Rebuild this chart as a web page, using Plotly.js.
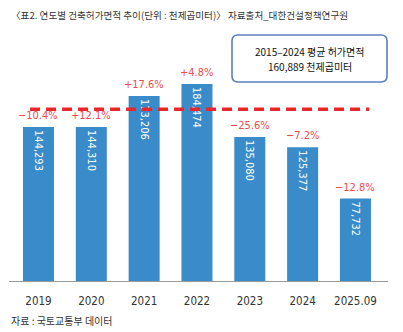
<!DOCTYPE html>
<html><head><meta charset="utf-8">
<script src="https://cdn.plot.ly/plotly-3.0.1.min.js"></script>
<style>html,body{margin:0;padding:0;background:#fff;}#chart{width:403px;height:332px;}</style>
</head><body><div id="chart"></div>
<script>
const years = ['2019','2020','2021','2022','2023','2024','2025.09'];
const areas = [144293, 144310, 173206, 184474, 135080, 125377, 77732];
const valueLabels = ['144,293','144,310','173,206','184,474','135,080','125,377','77,732'];
const changeLabels = ['−10.4%','+12.1%','+17.6%','+4.8%','−25.6%','−7.2%','−12.8%'];
const average = 160889;
const titleText = '〈표2. 연도별 건축허가면적 추이(단위 : 천제곱미터)〉 자료출처_대한건설정책연구원';
const boxLines = ['2015–2024 평균 허가면적', '160,889 천제곱미터'];
const sourceText = '자료 : 국토교통부 데이터';

const W = 403, H = 332;
const mL = 9, mR = 15, mT = 30, mB = 50;
const pw = W - mL - mR, ph = H - mT - mB;
const px = x => (x - mL) / pw;
const py = y => (H - mB - y) / ph;

const narrow = '"DejaVu Sans Condensed", "Liberation Sans Narrow", "Noto Sans CJK KR", sans-serif';
const kfont = '"Noto Sans CJK KR", sans-serif';

function roundRect(x0, y0, x1, y1, r) {
  const P = (x, y) => px(x) + ',' + py(y);
  return 'M' + P(x0 + r, y0) + ' L' + P(x1 - r, y0) + ' Q' + P(x1, y0) + ' ' + P(x1, y0 + r) +
    ' L' + P(x1, y1 - r) + ' Q' + P(x1, y1) + ' ' + P(x1 - r, y1) +
    ' L' + P(x0 + r, y1) + ' Q' + P(x0, y1) + ' ' + P(x0, y1 - r) +
    ' L' + P(x0, y0 + r) + ' Q' + P(x0, y0) + ' ' + P(x0 + r, y0) + ' Z';
}

const trace = {
  type: 'bar', x: years, y: areas, width: 0.587,
  marker: {color: '#3a8bc9'},
  text: valueLabels, textposition: 'inside', insidetextanchor: 'end',
  textangle: 90, insidetextfont: {color: '#ffffff', size: 11, family: narrow},
  hoverinfo: 'none', cliponaxis: false
};

const annotations = years.map((yr, i) => ({
  x: i, y: areas[i], xref: 'x', yref: 'y', text: changeLabels[i],
  showarrow: false, yanchor: 'bottom', yshift: 3,
  font: {color: '#f04950', size: 11, family: narrow}
}));
annotations.push({
  xref: 'paper', yref: 'paper', x: px(9), y: py(15), xanchor: 'left', yanchor: 'middle',
  text: titleText, showarrow: false, font: {size: 9.6, color: '#333', family: kfont}
});
boxLines.forEach((t, k) => annotations.push({
  xref: 'paper', yref: 'paper', x: px(309.5), y: py(k === 0 ? 51.3 : 66),
  xanchor: 'center', yanchor: 'middle', borderpad: 0,
  text: t, showarrow: false, font: {size: 10, color: '#111', family: kfont}
}));
annotations.push({
  xref: 'paper', yref: 'paper', x: px(9), y: py(320), xanchor: 'left', yanchor: 'middle',
  text: sourceText, showarrow: false, font: {size: 10, color: '#333', family: kfont}
});

const layout = {
  width: W, height: H,
  margin: {l: mL, r: mR, t: mT, b: mB, pad: 0},
  paper_bgcolor: '#fff', plot_bgcolor: '#fff',
  showlegend: false,
  xaxis: {
    type: 'category', range: [-0.558, 6.616], showgrid: false, zeroline: false,
    showline: false, ticks: '', ticklabelstandoff: 10,
    tickfont: {size: 11.5, color: '#333', family: narrow}
  },
  yaxis: {range: [0, 234640], visible: false, fixedrange: true},
  shapes: [
    {type: 'line', xref: 'paper', yref: 'y', x0: 0, x1: 1, y0: 0, y1: 0,
     line: {color: '#9a9a9a', width: 2}},
    {type: 'line', xref: 'x', yref: 'y', x0: -0.16, x1: 6.26, y0: average, y1: average,
     line: {color: '#e8262c', width: 3.5, dash: '10px,6px'}, layer: 'above'},
    {type: 'path', xref: 'paper', yref: 'paper', path: roundRect(232, 35, 387, 82, 6),
     line: {color: '#5b7fc0', width: 1.6}, fillcolor: 'rgba(255,255,255,0)'}
  ],
  annotations: annotations
};

Plotly.newPlot('chart', [trace], layout, {displayModeBar: false, staticPlot: true});
</script></body></html>
